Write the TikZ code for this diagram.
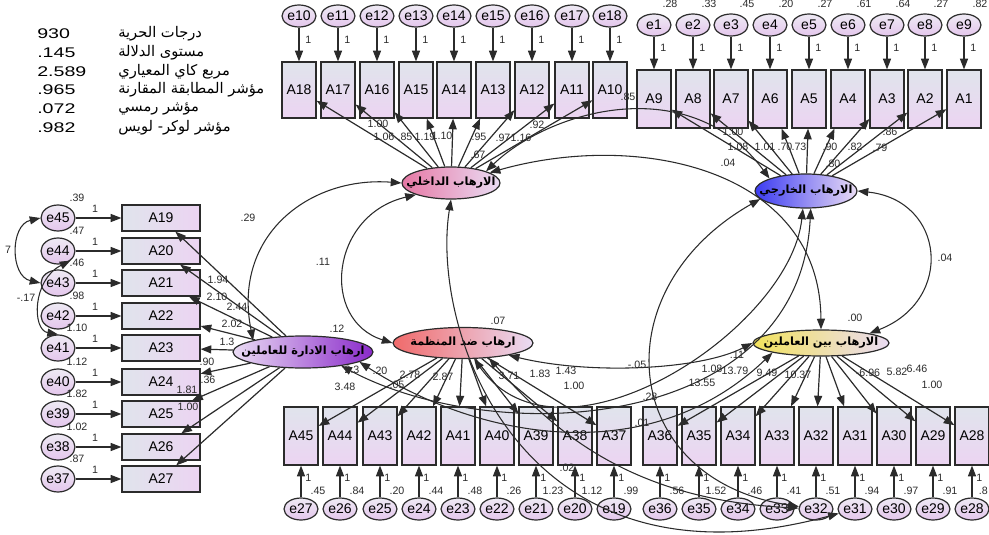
\documentclass[tikz,border=0pt]{standalone}
\usepackage{fontspec}
\setmainfont{Liberation Sans}
\newfontfamily\arabicfont[Script=Arabic]{DejaVu Sans}
\newfontfamily\statfont[FakeStretch=1.4]{Liberation Sans}
\TeXXeTstate=1
\usetikzlibrary{arrows.meta,shapes.geometric}

\definecolor{boxtop}{HTML}{E0E4EC}
\definecolor{boxbot}{HTML}{ECD4F2}
\definecolor{errtop}{HTML}{EEEAF4}
\definecolor{errbot}{HTML}{E4C6EC}
\definecolor{edge}{HTML}{2B2B2B}
\definecolor{lavender}{HTML}{EADCF4}
\definecolor{pinkint}{HTML}{E678A4}
\definecolor{blueext}{HTML}{3C3CF2}
\definecolor{redorg}{HTML}{F06A6A}
\definecolor{purplemg}{HTML}{8A2ACA}
\definecolor{yellowbw}{HTML}{F2E25C}

\begin{document}
\begin{tikzpicture}[
  x=0.75pt, y=-0.75pt,
  obsbox/.style={draw=edge, line width=0.9pt, top color=boxtop, bottom color=boxbot,
    minimum width=25.5pt, minimum height=43.5pt, inner sep=0pt,
    font=\fontsize{10.5}{12}\selectfont},
  obswide/.style={draw=edge, line width=0.9pt, left color=boxtop, right color=boxbot,
    minimum width=58.5pt, minimum height=19.5pt, inner sep=0pt,
    font=\fontsize{10.5}{12}\selectfont},
  errnode/.style={ellipse, draw=edge, line width=0.9pt, top color=errtop, bottom color=errbot,
    minimum width=25.5pt, minimum height=16.5pt, inner sep=0pt,
    font=\fontsize{10.5}{12}\selectfont},
  latent/.style={ellipse, draw=edge, line width=0.9pt, inner sep=0pt},
  lattext/.style={font=\arabicfont\bfseries\fontsize{8.5}{10}\selectfont, inner sep=0pt},
  arr/.style={-{Triangle[length=8pt,width=6pt]}, draw=edge, line width=0.9pt},
  cov/.style={{Triangle[length=8pt,width=6pt]}-{Triangle[length=8pt,width=6pt]},
    draw=edge, line width=0.8pt},
  num/.style={font=\fontsize{8}{9}\selectfont, inner sep=0pt, text=edge},
  statnum/.style={font=\statfont\fontsize{10.5}{12}\selectfont, inner sep=0pt, anchor=west},
  stattext/.style={font=\arabicfont\fontsize{11}{13}\selectfont, inner sep=0pt, anchor=west}
]
\useasboundingbox (0,0) rectangle (989,535);

% fit indices
\foreach \v/\t/\y in {930/درجات الحرية/34, .145/مستوى الدلالة/53, 2.589/مربع كاي المعياري/72,
    .965/مؤشر المطابقة المقارنة/90, .072/مؤشر رمسي/109, .982/مؤشر لوكر- لويس/128}{
  \node[statnum] (fitv\y) at (37,\y) {\v};
  \node[stattext] (fitt\y) at (118,\y) {\beginR\t\endR};
}

% latent factors
\node[latent, minimum width=73.5pt, minimum height=24pt, left color=pinkint, right color=lavender,
  label={[lattext]center:\beginR الارهاب الداخلي\endR}] (int) at (451,183) {};
\node[latent, minimum width=76.5pt, minimum height=25.5pt, left color=blueext, right color=lavender,
  label={[lattext]center:\beginR الارهاب الخارجي\endR}] (ext) at (806,191) {};
\node[latent, minimum width=105pt, minimum height=23.25pt, left color=redorg, right color=lavender,
  label={[lattext]center:\beginR ارهاب ضد المنظمة\endR}] (org) at (463,343) {};
\node[latent, minimum width=105pt, minimum height=24pt, left color=lavender, right color=purplemg,
  label={[lattext]center:\beginR ارهاب الادارة للعاملين\endR}] (mgmt) at (303,352) {};
\node[latent, minimum width=102pt, minimum height=19.5pt, left color=yellowbw, right color=lavender,
  label={[lattext]center:\beginR الارهاب بين العاملين\endR}] (betw) at (821,343) {};

% top left row
\foreach \e/\a/\x in {10/18/299, 11/17/338, 12/16/377, 13/15/416, 14/14/454,
    15/13/493, 16/12/532, 17/11/572, 18/10/610}{
  \node[errnode] (e\e) at (\x,16) {e\e};
  \node[obsbox, minimum height=42pt] (A\a) at (\x,90) {A\a};
  \draw[arr] (e\e) -- (A\a);
  \node[num, anchor=west] at (\x+6,40) {1};
}

% top right row
\foreach \e/\a/\x/\v in {1/9/654/.28, 2/8/693/.33, 3/7/731/.45, 4/6/770/.20, 5/5/809/.27,
    6/4/848/.61, 7/3/887/.64, 8/2/925/.27, 9/1/964/.82}{
  \node[errnode] (e\e) at (\x,25) {e\e};
  \node[obsbox] (A\a) at (\x,99) {A\a};
  \draw[arr] (e\e) -- (A\a);
  \node[num, anchor=west] at (\x+6,48) {1};
  \node[num] at (\x+16,4) {\v};
}

% left column
\foreach \e/\a/\y/\v in {45/19/218/.39, 44/20/251/.47, 43/21/283/.46, 42/22/316/.98,
    41/23/348/1.10, 40/24/382/1.12, 39/25/414/1.82, 38/26/447/1.02, 37/27/479/.87}{
  \node[errnode, minimum height=19.5pt] (e\e) at (58,\y) {e\e};
  \node[obswide] (A\a) at (161,\y) {A\a};
  \draw[arr] (e\e) -- (A\a);
  \node[num] at (95,\y-9) {1};
  \node[num] at (77,\y-20) {\v};
}

% bottom rows
\foreach \e/\a/\x/\v in {27/45/301/.45, 26/44/340/.84, 25/43/380/.20, 24/42/419/.44,
    23/41/458/.48, 22/40/497/.26, 21/39/536/1.23, 20/38/575/1.12, 19/37/614/.99,
    36/36/660/.56, 35/35/699/1.52, 34/34/738/.46, 33/33/777/.41, 32/32/816/.51,
    31/31/855/.94, 30/30/894/.97, 29/29/933/.91}{
  \node[obsbox] (A\a) at (\x,436) {A\a};
  \node[errnode] (e\e) at (\x,509) {e\e};
  \draw[arr] (e\e) -- (A\a);
  \node[num, anchor=west] at (\x+4,478) {1};
  \node[num] at (\x+17,491) {\v};
}
\node[obsbox] (A28) at (972,436) {A28};
\node[errnode] (e28) at (972,509) {e28};
\draw[arr] (e28) -- (A28);
\node[num, anchor=west] at (976,478) {1};
\node[num, anchor=east] at (988,491) {.8};

% loadings
\foreach \a in {10,...,18} \draw[arr] (int) -- (A\a);
\foreach \a in {1,...,9} \draw[arr] (ext) -- (A\a);
\foreach \a in {19,...,27} \draw[arr] (mgmt) -- (A\a);
\foreach \a in {37,...,45} \draw[arr] (org) -- (A\a);
\foreach \a in {28,...,36} \draw[arr] (betw) -- (A\a);

% covariances
\draw[cov] (int.west) .. controls (310,176) and (232,235) .. (mgmt.north west);
\draw[cov] (int.south west) .. controls (330,215) and (320,320) .. (org.west);
\draw[cov] (int.north east) .. controls (550,110) and (690,70) .. (ext.north west);
\draw[cov] (int.15) .. controls (640,130) and (820,170) .. (betw.north);
\draw[cov] (ext.east) .. controls (945,200) and (955,300) .. (betw.north east);
\draw[cov] (org.-15) .. controls (590,375) and (700,370) .. (betw.west);
\draw[cov] (ext.190) .. controls (600,290) and (620,480) .. (e32);
\draw[cov] (int.south) .. controls (430,330) and (520,600) .. (e31);
\draw[cov] (mgmt.-10) .. controls (480,440) and (650,470) .. (betw.south west);
\draw[cov] (ext.-100) .. controls (790,330) and (560,480) .. (org.-55);
\draw[cov] (mgmt.-20) .. controls (500,450) and (800,430) .. (ext.-75);
\draw[cov] (org.-30) .. controls (560,440) and (640,500) .. (e32);
\draw[cov] (e45.west) .. controls (10,225) and (10,276) .. (e43.west);
\draw[cov] (e44.south east) .. controls (32,280) and (32,330) .. (e41.north);

% estimates
\foreach \t/\x/\y in {1.00/378/124, 1.06/384/137, .85/405/137, 1.19/425/137, 1.10/442/136,
    .95/479/137, .97/503/138, 1.16/521/138, .92/537/125,
    1.00/733/132, 1.08/738/147, 1.01/765/147, .70/785/147, .73/799/147, .90/830/147,
    .82/855/147, .79/880/148, .86/890/132,
    1.94/218/280, 2.10/217/297, 2.44/237/307, 2.02/232/324, 1.3/227/342, .90/207/362,
    .36/208/380, 1.81/187/390, 1.00/188/407,
    2.3/352/370, 3.48/345/387, .20/380/371, .05/397/385, 2.78/410/375, 2.87/443/377,
    3.71/509/376, 1.83/540/374, 1.43/566/371, 1.00/574/386,
    1.08/712/369, 13.79/735/371, 13.55/702/383, 9.49/767/373, 10.37/798/375,
    -6.96/868/373, 5.82/897/372, 6.46/917/369, 1.00/932/385,
    .67/478/155, .80/833/164, .12/337/329, .07/498/321, .00/855/318,
    .29/248/218, .11/323/262, .85/628/97, .04/728/163, .04/945/258, -.05/637/365,
    .11/737/355, .28/650/397, .01/642/423, .02/567/468, 7/8/250, -.17/26/298}{
  \node[num] at (\x,\y) {\t};
}
\end{tikzpicture}
\end{document}
